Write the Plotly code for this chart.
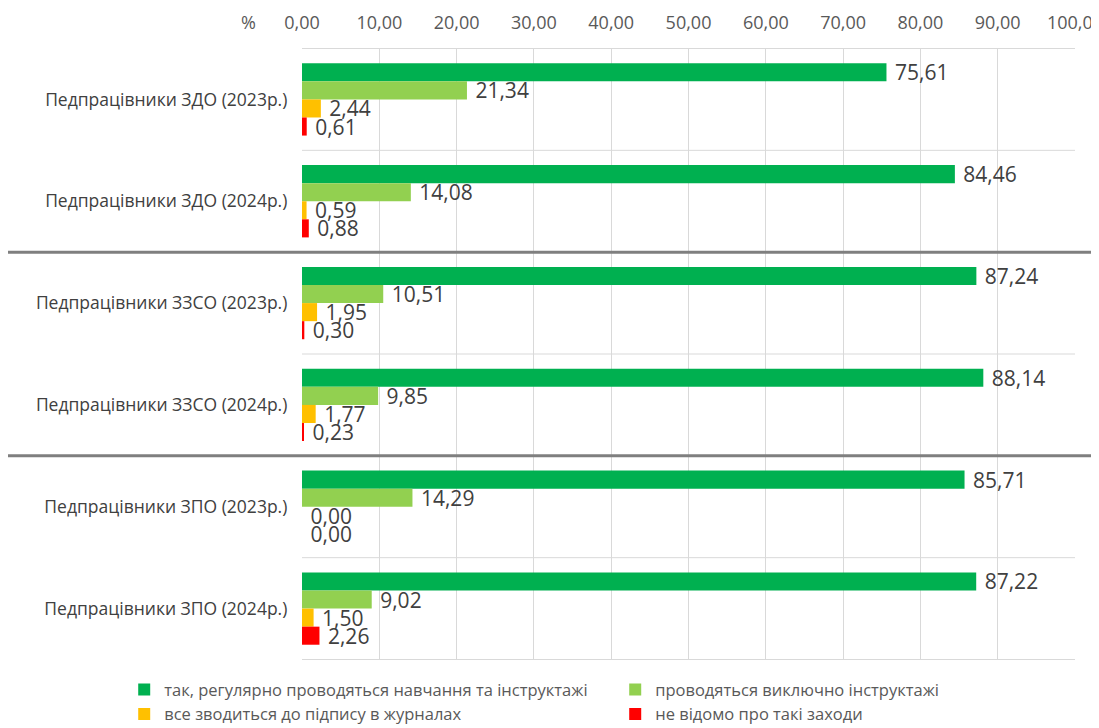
import plotly.graph_objects as go

categories = [
    "Педпрацівники ЗДО (2023р.)",
    "Педпрацівники ЗДО (2024р.)",
    "Педпрацівники ЗЗСО (2023р.)",
    "Педпрацівники ЗЗСО (2024р.)",
    "Педпрацівники ЗПО (2023р.)",
    "Педпрацівники ЗПО (2024р.)",
]
series_names = [
    "так, регулярно проводяться навчання та інструктажі",
    "проводяться виключно інструктажі",
    "все зводиться до підпису в журналах",
    "не відомо про такі заходи",
]
regular = [75.61, 84.46, 87.24, 88.14, 85.71, 87.22]
instr_only = [21.34, 14.08, 10.51, 9.85, 14.29, 9.02]
signature = [2.44, 0.59, 1.95, 1.77, 0.00, 1.50]
unknown = [0.61, 0.88, 0.30, 0.23, 0.00, 2.26]
tick_vals = [0, 10, 20, 30, 40, 50, 60, 70, 80, 90, 100]
tick_text = ["0,00", "10,00", "20,00", "30,00", "40,00", "50,00", "60,00", "70,00", "80,00", "90,00", "100,00"]

colors = ["#00B050", "#92D050", "#FFC000", "#FF0000"]
series = [regular, instr_only, signature, unknown]
FONT = "Open Sans"

fig = go.Figure()
for name, vals, col in zip(series_names, series, colors):
    fig.add_trace(go.Bar(
        y=categories, x=vals, name=name, orientation="h",
        marker=dict(color=col, line=dict(width=0)),
        text=["\u00a0" + f"{v:.2f}".replace(".", ",") for v in vals],
        textposition="outside",
        constraintext="none",
        textfont=dict(family=FONT, size=21, color="#404040"),
        cliponaxis=False,
    ))

shapes = []
for i in range(7):
    yv = i - 0.5
    shapes.append(dict(type="line", xref="x", yref="y", x0=0, x1=100, y0=yv, y1=yv,
                       line=dict(color="#D9D9D9", width=1), layer="below"))
for yv in [1.5, 3.5]:
    shapes.append(dict(type="line", xref="paper", yref="y", x0=-0.384, x1=1.026, y0=yv, y1=yv,
                       line=dict(color="#7F7F7F", width=3)))

fig.update_layout(
    width=1091, height=720,
    margin=dict(l=294, r=24, t=40, b=68, autoexpand=False),
    paper_bgcolor="white", plot_bgcolor="white",
    barmode="group", bargap=0.29, bargroupgap=0,
    font=dict(family=FONT, color="#595959"),
    shapes=shapes,
    uniformtext=dict(mode=False),
    xaxis=dict(side="top", range=[0, 100], tickvals=tick_vals, ticktext=tick_text,
               showgrid=True, gridcolor="#D9D9D9", gridwidth=1, zeroline=False,
               showline=False, ticks="", automargin=False, ticklabelstandoff=14,
               ticklabeloverflow="allow",
               tickfont=dict(family=FONT, size=18, color="#595959")),
    yaxis=dict(autorange="reversed", showgrid=False, ticks="", showline=False,
               automargin=False, ticksuffix="   ",
               tickfont=dict(family=FONT, size=17.5, color="#404040")),
    legend=dict(orientation="h", xref="paper", yref="paper",
                x=-0.230, xanchor="left", y=-0.02, yanchor="top",
                font=dict(family=FONT, size=16.5, color="#595959"),
                entrywidth=446, entrywidthmode="pixels", tracegroupgap=0,
                itemclick=False, bgcolor="rgba(0,0,0,0)"),
    annotations=[dict(text="%", xref="paper", yref="paper", x=-0.069, y=1.0,
                      yanchor="middle", xanchor="center", yshift=26,
                      showarrow=False, font=dict(family=FONT, size=18, color="#595959"))],
    showlegend=True,
)

fig.write_html("out.html")
